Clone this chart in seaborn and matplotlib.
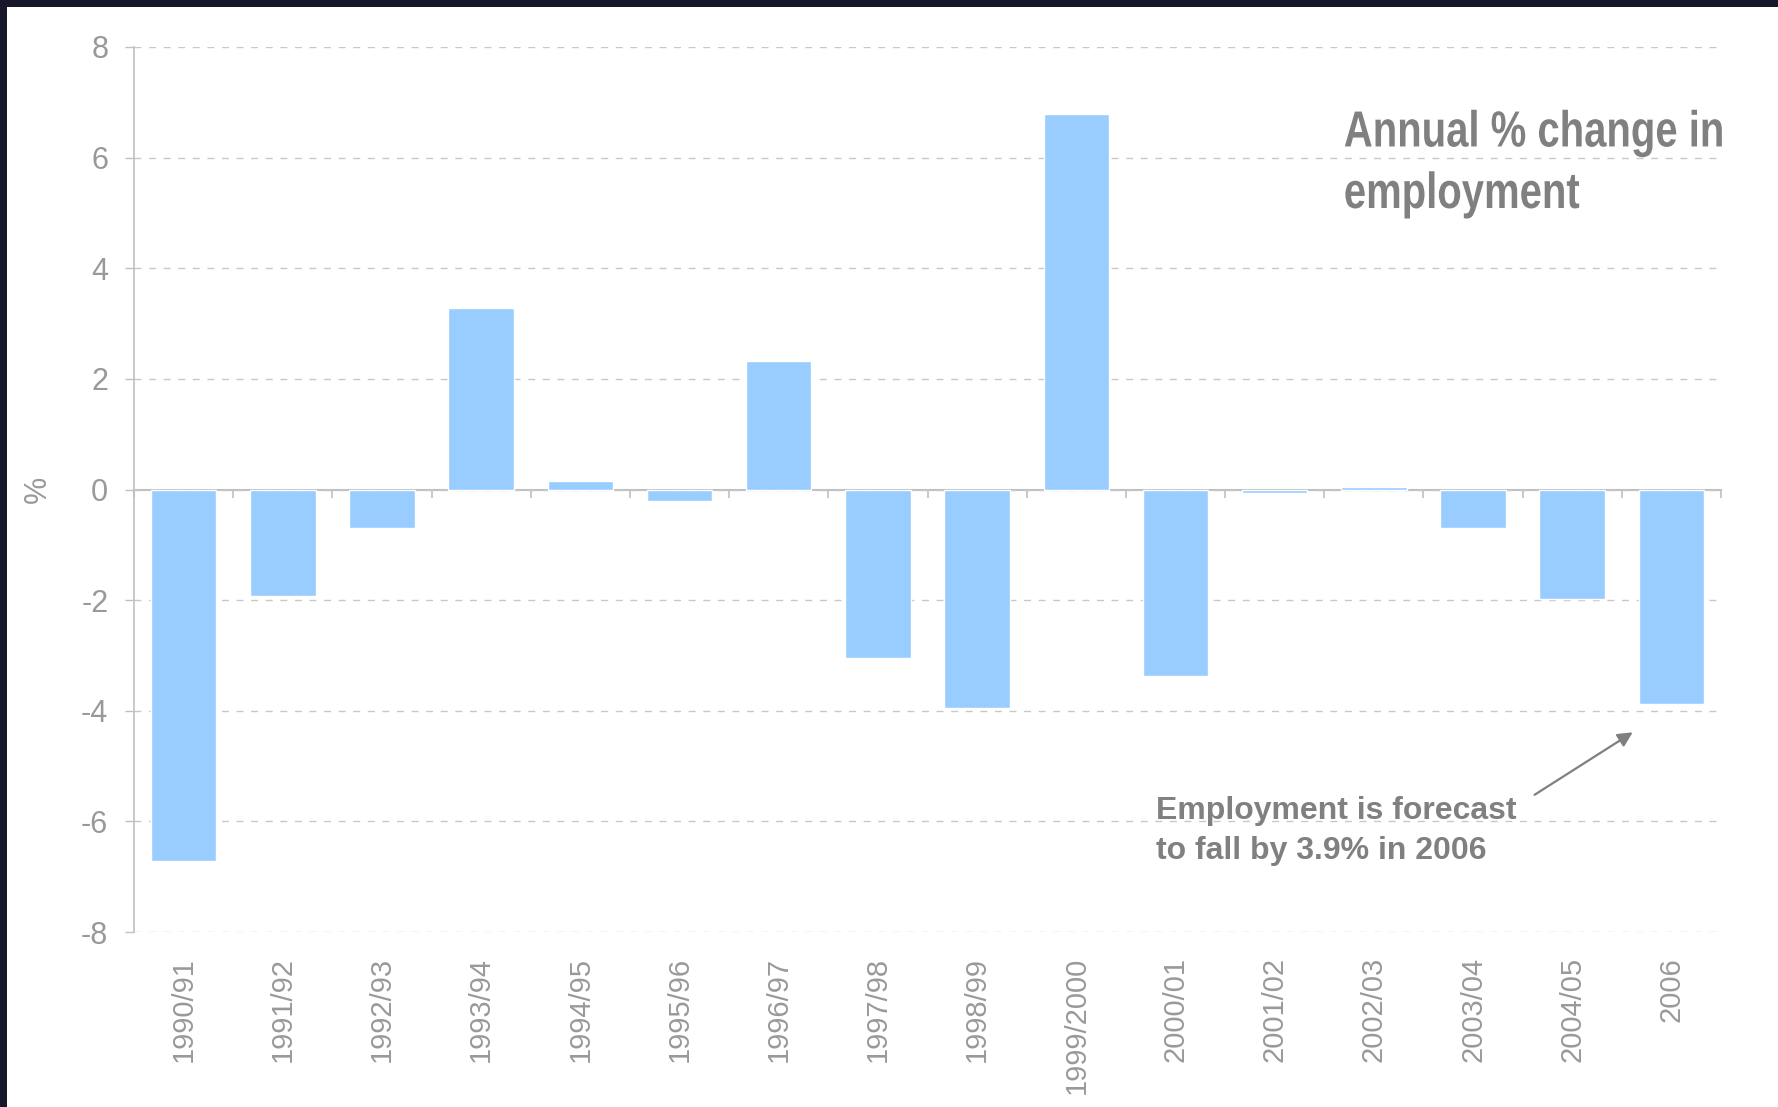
import numpy as np
import matplotlib
matplotlib.use("Agg")
import matplotlib.pyplot as plt
from matplotlib.patches import Rectangle
from matplotlib.patheffects import AbstractPathEffect
from matplotlib.transforms import Affine2D
import seaborn as sns

categories = ["1990/91", "1991/92", "1992/93", "1993/94", "1994/95", "1995/96",
              "1996/97", "1997/98", "1998/99", "1999/2000", "2000/01", "2001/02",
              "2002/03", "2003/04", "2004/05", "2006"]
values = [-6.71, -1.93, -0.70, 3.29, 0.15, -0.20, 2.32, -3.05, -3.95, 6.78,
          -3.37, -0.06, 0.04, -0.70, -1.98, -3.87]
y_ticks = [-8, -6, -4, -2, 0, 2, 4, 6, 8]
title_text = "Annual % change in\nemployment"
note_text = "Employment is forecast\nto fall by 3.9% in 2006"

BAR = "#99CCFF"
GRID = "#c8c8c8"
AXIS = "#c0c0c0"
TICKTXT = "#999999"
TXT = "#808080"

sns.set_theme(style="white")
plt.rcParams["font.family"] = ["Liberation Sans", "DejaVu Sans"]
plt.rcParams["axes.unicode_minus"] = False


class HScale(AbstractPathEffect):
    """Horizontally condense text glyphs about a fixed x (display px)."""

    def __init__(self, sx, x0):
        super().__init__()
        self.sx = sx
        self.x0 = x0

    def draw_path(self, renderer, gc, tpath, affine, rgbFace=None):
        t = affine + Affine2D().translate(-self.x0, 0).scale(self.sx, 1).translate(self.x0, 0)
        renderer.draw_path(gc, tpath, t, rgbFace)


W, H = 1778, 1107
fig = plt.figure(figsize=(W / 100, H / 100), dpi=100)
fig.patch.set_facecolor("#17172c")
fig.patches.append(Rectangle((7 / W, 0), 1, 1 - 7 / H, transform=fig.transFigure,
                             facecolor="white", edgecolor="none", zorder=-5))

ax = fig.add_axes([134 / W, 1 - 932 / H, (1721 - 134) / W, (932 - 47) / H])
ax.set_facecolor("none")

sns.barplot(x=categories, y=values, color=BAR, saturation=1, width=0.66, ax=ax)

ax.set_xlim(-0.5, len(categories) - 0.5)
ax.set_ylim(min(y_ticks), max(y_ticks))
ax.set_yticks(y_ticks)
ax.set_axisbelow(True)
ax.yaxis.grid(True, color=GRID, linestyle=(0, (5, 5.5)), linewidth=1.0)
ax.xaxis.grid(False)

for s in ["top", "right", "bottom"]:
    ax.spines[s].set_visible(False)
ax.spines["left"].set_color(AXIS)
ax.spines["left"].set_linewidth(1.2)

ax.tick_params(axis="y", which="major", left=True, length=6.5, width=1, color=AXIS,
               labelsize=22, labelcolor=TICKTXT, pad=12)
ax.tick_params(axis="x", which="major", bottom=True, length=0, labelsize=21,
               labelcolor=TICKTXT, pad=18, labelrotation=90)
ax.set_xlabel("")
ax.set_ylabel("%", fontsize=22, color=TICKTXT, labelpad=20)

# zero axis line with category-boundary ticks
sec = ax.secondary_xaxis(0, transform=ax.transData)
sec.set_xticks(np.arange(len(categories) + 1) - 0.5)
sec.tick_params(axis="x", length=6, width=1.2, color=AXIS, labelbottom=False,
                labeltop=False, direction="out")
for s in sec.spines.values():
    s.set_color(AXIS)
    s.set_linewidth(1.5)

# title (condensed bold, like Arial Narrow), right edge anchored
tx1 = 1725
fig.text(tx1 / W, 1 - 208 / H, title_text, fontsize=36.5, fontweight="bold",
         color=TXT, ha="right", va="baseline", multialignment="left",
         linespacing=1.33, path_effects=[HScale(0.79, tx1)])

# annotation
fig.text(1156 / W, 1 - 859 / H, note_text, family="Liberation Sans", fontsize=23,
         fontweight="bold", color=TXT, ha="left", va="baseline", linespacing=1.42)
ax.annotate("", xy=(14.61, -4.39), xycoords="data", xytext=(13.62, -5.52),
            textcoords="data",
            arrowprops=dict(arrowstyle="-|>", color=TXT, lw=1.6,
                            mutation_scale=22, shrinkA=0, shrinkB=0))

fig.savefig("out.png", dpi=100, facecolor=fig.get_facecolor())
